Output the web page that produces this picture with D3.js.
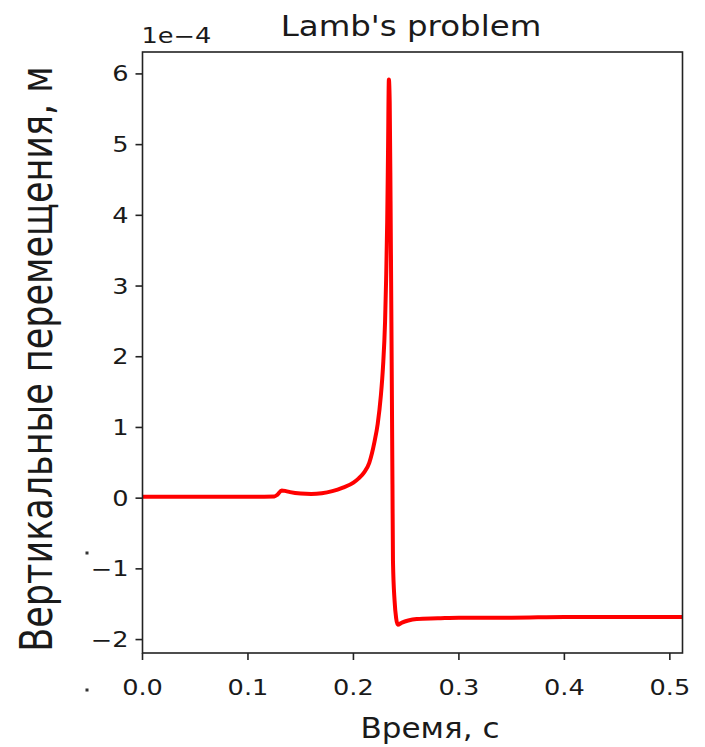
<!DOCTYPE html>
<html><head><meta charset="utf-8">
<script src="https://cdn.jsdelivr.net/npm/d3@7"></script>
<style>body{margin:0;background:#fff}svg{display:block}text{font-family:"DejaVu Sans",sans-serif;fill:#1a1a1a}</style>
</head><body>
<script>
// Data (displacement in units of 1e-4 m)
const time = [0, 0.05, 0.10, 0.125, 0.128, 0.132, 0.136, 0.14, 0.15, 0.16, 0.17, 0.18, 0.19, 0.20, 0.205, 0.21, 0.215, 0.22, 0.223, 0.226, 0.228, 0.230, 0.231, 0.232, 0.2328, 0.2336, 0.2344, 0.2352, 0.236, 0.237, 0.2375, 0.239, 0.2405, 0.242, 0.246, 0.252, 0.26, 0.28, 0.30, 0.35, 0.40, 0.45, 0.512];
const displacement = [0.02, 0.02, 0.02, 0.025, 0.05, 0.11, 0.10, 0.085, 0.065, 0.06, 0.07, 0.10, 0.15, 0.22, 0.28, 0.36, 0.50, 0.80, 1.05, 1.45, 1.85, 2.5, 3.1, 3.9, 4.9, 5.92, 5.6, 4.2, 2.5, 0.2, -0.9, -1.45, -1.70, -1.79, -1.76, -1.73, -1.71, -1.70, -1.69, -1.69, -1.68, -1.68, -1.68];
const xTicks = [0.0, 0.1, 0.2, 0.3, 0.4, 0.5];
const yTicks = [-2, -1, 0, 1, 2, 3, 4, 5, 6];
const title = "Lamb's problem";
const xLabel = "Время, с";
const yLabel = "Вертикальные перемещения, м";
const offsetLabel = "1e\u22124";

const W = 705, H = 747;
const L = 142.5, R = 682.5, T = 52, B = 653;
const SX = 1.25; // horizontal glyph stretch

const svg = d3.select("body").append("svg").attr("width", W).attr("height", H);
const x = d3.scaleLinear().domain([0, 0.512]).range([L, R]);
const y = d3.scaleLinear().domain([-2.19, 6.31]).range([B, T]);

// curve
const line = d3.line().x((d,i)=>x(time[i])).y(d=>y(d)).curve(d3.curveMonotoneX);
svg.append("path").attr("d", line(displacement)).attr("fill","none")
  .attr("stroke","#ff0000").attr("stroke-width",4).attr("stroke-linejoin","round").attr("stroke-linecap","butt");

// frame
svg.append("rect").attr("x",L).attr("y",T).attr("width",R-L).attr("height",B-T)
  .attr("fill","none").attr("stroke","#222").attr("stroke-width",1.6);

function stretchText(px, py, str, size, anchor, sx){
  return svg.append("text").attr("transform",`translate(${px},${py}) scale(${sx},1)`)
    .attr("text-anchor",anchor).attr("font-size",size).text(str);
}

// x axis ticks
const xFmt = d3.format(".1f");
xTicks.forEach(t=>{
  svg.append("line").attr("x1",x(t)).attr("x2",x(t)).attr("y1",B).attr("y2",B+7).attr("stroke","#222").attr("stroke-width",1.6);
  stretchText(x(t), B+42, xFmt(t), 20.5, "middle", SX);
});
// y axis ticks
yTicks.forEach(t=>{
  svg.append("line").attr("x1",L-7).attr("x2",L).attr("y1",y(t)).attr("y2",y(t)).attr("stroke","#222").attr("stroke-width",1.6);
  stretchText(L-14, y(t)+7.5, (t<0?"\u2212":"")+Math.abs(t), 20.5, "end", SX);
});
// offset text
stretchText(L-1, 43, offsetLabel, 20.5, "start", SX);
// title
stretchText(411, 36, title, 29, "middle", 1.12);
// x label
stretchText(430, 738, xLabel, 27.5, "middle", 1.13);
// y label
svg.append("text").attr("transform",`translate(52,359) rotate(-90) scale(1,${SX})`)
  .attr("text-anchor","middle").attr("font-size",35).text(yLabel);

// small marks present in the picture
[[87,553],[87,690]].forEach(p=>svg.append("rect").attr("x",p[0]-1.5).attr("y",p[1]-1.5).attr("width",3).attr("height",3).attr("fill","#333"));
</script>
</body></html>
